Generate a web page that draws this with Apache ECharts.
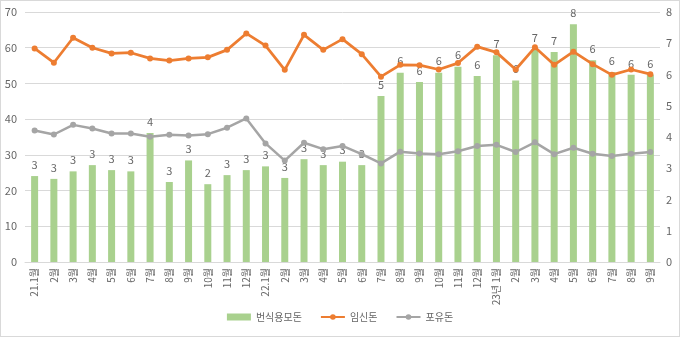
<!DOCTYPE html>
<html><head><meta charset="utf-8">
<script src="https://cdn.jsdelivr.net/npm/echarts@6/dist/echarts.min.js"></script>
<style>html,body{margin:0;padding:0;background:#fff}#c{width:678px;height:335px;border:1px solid #d9d9d9}</style>
</head><body><div id="c"></div>
<script>
const categories = ['21.1월','2월','3월','4월','5월','6월','7월','8월','9월','10월','11월','12월',
  '22.1월','2월','3월','4월','5월','6월','7월','8월','9월','10월','11월','12월',
  '23년 1월','2월','3월','4월','5월','6월','7월','8월','9월'];
// 번식용모돈 (right axis units)
const breeding = [2.75,2.66,2.90,3.10,2.94,2.90,4.13,2.56,3.25,2.49,2.78,2.94,
  3.06,2.69,3.29,3.10,3.21,3.10,5.31,6.06,5.76,6.06,6.25,5.95,
  6.62,5.81,6.81,6.72,7.61,6.46,6.08,5.99,5.99];
// 임신돈 (left axis)
const pregnant = [59.8,55.8,62.8,60.0,58.4,58.6,57.0,56.4,57.0,57.3,59.4,64.0,
  60.6,53.8,63.6,59.4,62.4,58.2,51.9,55.2,55.1,53.9,55.7,60.3,
  58.7,53.9,60.1,55.2,58.9,55.4,52.4,53.9,52.6];
// 포유돈 (left axis)
const nursing = [36.8,35.7,38.4,37.4,36.0,36.0,35.1,35.6,35.4,35.8,37.6,40.2,
  33.2,28.4,33.4,31.6,32.5,30.2,27.6,30.9,30.4,30.2,31.0,32.5,
  32.8,30.8,33.5,30.2,32.0,30.3,29.7,30.3,30.8];
const leftTicks = [0,10,20,30,40,50,60,70];
const rightTicks = [0,1,2,3,4,5,6,7,8];

const chart = echarts.init(document.getElementById('c'));
const txt = '#666666';
chart.setOption({
  animation:false,
  textStyle:{fontFamily:'Noto Sans CJK KR, Noto Sans, sans-serif'},
  grid:{left:24,right:19,top:11,bottom:74},
  legend:{bottom:9,left:'center',itemGap:18,itemWidth:24,itemHeight:7,
    textStyle:{color:txt,fontSize:10},
    data:[{name:'번식용모돈',icon:'rect'},{name:'임신돈'},{name:'포유돈'}]},
  xAxis:{type:'category',data:categories,
    axisLine:{lineStyle:{color:'#d9d9d9'}},axisTick:{show:false},
    axisLabel:{rotate:90,color:txt,fontSize:10,interval:0,margin:6}},
  yAxis:[
    {type:'value',min:leftTicks[0],max:leftTicks[leftTicks.length-1],interval:10,
     axisLabel:{color:txt,fontSize:11,margin:8},
     splitLine:{lineStyle:{color:'#d9d9d9'}},axisLine:{show:false},axisTick:{show:false}},
    {type:'value',min:rightTicks[0],max:rightTicks[rightTicks.length-1],interval:1,
     axisLabel:{color:txt,fontSize:11,margin:6},
     splitLine:{show:false},axisLine:{show:false},axisTick:{show:false}}
  ],
  series:[
    {name:'번식용모돈',type:'bar',yAxisIndex:1,data:breeding,barWidth:7,
     itemStyle:{color:'#a9d18e'},
     label:{show:true,position:'top',color:txt,fontSize:11,distance:6,
       formatter:p=>Math.round(p.value)}},
    {name:'임신돈',type:'line',yAxisIndex:0,data:pregnant,symbol:'circle',symbolSize:6,
     itemStyle:{color:'#ed7d31'},lineStyle:{width:2.75,color:'#ed7d31'}},
    {name:'포유돈',type:'line',yAxisIndex:0,data:nursing,symbol:'circle',symbolSize:6,
     itemStyle:{color:'#a5a5a5'},lineStyle:{width:2.5,color:'#a5a5a5'}}
  ]
});
</script></body></html>
